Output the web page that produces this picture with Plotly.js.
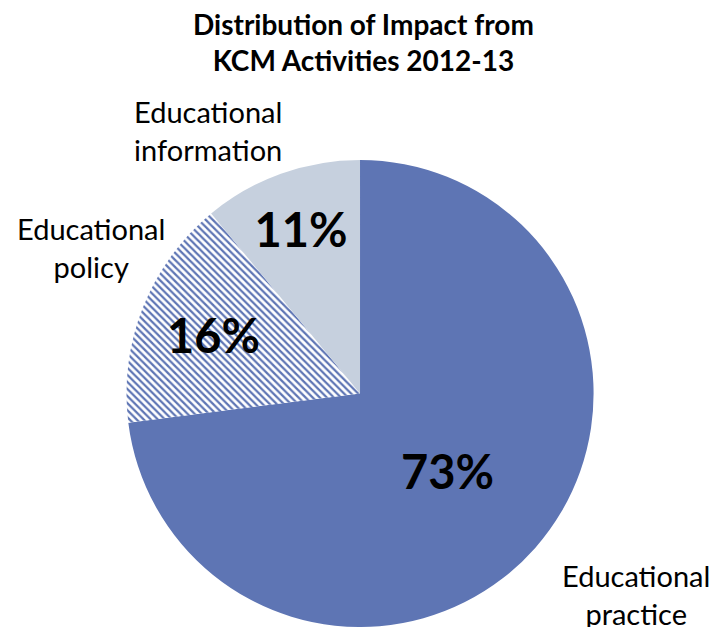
<!DOCTYPE html>
<html><head><meta charset="utf-8">
<script src="https://cdn.plot.ly/plotly-3.0.1.min.js"></script>
<style>html,body{margin:0;padding:0;background:#fff;}#chart{width:726px;height:627px;}</style>
</head><body><div id="chart"></div>
<script>
const categories = ["Educational practice", "Educational policy", "Educational information"];
const labelText = ["Educational<br>practice", "Educational<br>policy", "Educational<br>information"];
const values = [73, 16, 11];
const colors = ["#5e75b4", "#ffffff", "#c6d0de"];
const patterns = ["", "\\", ""];
const chartTitle = "Distribution of Impact from<br>KCM Activities 2012-13";

const trace = {
  type: "pie",
  labels: categories,
  values: values,
  sort: false,
  direction: "clockwise",
  rotation: 0,
  textinfo: "percent",
  texttemplate: "%{percent:.0%}",
  textposition: "inside",
  insidetextorientation: "horizontal",
  textfont: {family: "Lato, 'Open Sans', sans-serif", size: 47, color: "#000", weight: "bold"},
  marker: {
    colors: colors,
    line: {width: 0},
    pattern: {shape: patterns, fgcolor: "#5e75b4", bgcolor: "#ffffff", size: 5, solidity: 0.45}
  },
  domain: {x: [0.1736, 0.8182], y: [0, 0.745]},
  hoverinfo: "label+percent",
  showlegend: false
};

const lf = {family: "Lato, 'Open Sans', sans-serif", size: 29, color: "#000"};
const layout = {
  width: 726, height: 627,
  margin: {l: 0, r: 0, t: 0, b: 0},
  paper_bgcolor: "#fff",
  showlegend: false,
  annotations: [
    {text: chartTitle, x: 364/726, y: 1 - 42/627, xref: "paper", yref: "paper", showarrow: false,
     font: {family: "Lato, 'Open Sans', sans-serif", size: 28, color: "#000", weight: "bold"},
     xanchor: "center", yanchor: "middle", align: "center"},
    {text: labelText[0], x: 636/726, y: 1 - 594/627, xref: "paper", yref: "paper", showarrow: false, font: lf, xanchor: "center", yanchor: "middle"},
    {text: labelText[1], x: 91/726, y: 1 - 247/627, xref: "paper", yref: "paper", showarrow: false, font: lf, xanchor: "center", yanchor: "middle"},
    {text: labelText[2], x: 208/726, y: 1 - 131/627, xref: "paper", yref: "paper", showarrow: false, font: lf, xanchor: "center", yanchor: "middle"}
  ]
};

Plotly.newPlot("chart", [trace], layout, {displayModeBar: false, staticPlot: true});
</script></body></html>
